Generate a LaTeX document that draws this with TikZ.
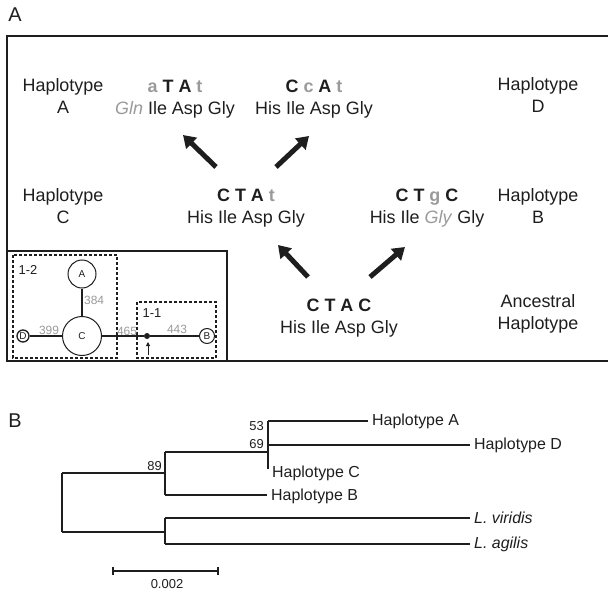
\documentclass[tikz,border=0pt]{standalone}
\usepackage{fontspec}
\setmainfont{Liberation Sans}
\usetikzlibrary{arrows.meta}
\definecolor{ink}{HTML}{1E1E1E}
\definecolor{lgray}{HTML}{9A9A9A}
\newcommand{\grb}[1]{\textcolor{lgray}{\textbf{#1}}}
\newcommand{\gri}[1]{\textcolor{lgray}{\textit{#1}}}
\begin{document}
\begin{tikzpicture}[x=1bp,y=-1bp,
  lab/.style={align=center,font=\fontsize{18}{22}\selectfont,text=ink,inner sep=0},
  panel/.style={font=\fontsize{20}{22}\selectfont,text=ink,inner sep=0},
  bigarrow/.style={line width=5bp,draw=ink,-{Triangle[length=12bp,width=15bp]}},
  frame/.style={line width=1.2bp,draw=ink},
  dbox/.style={line width=1.1bp,draw=ink,dash pattern=on 3bp off 2bp},
  netc/.style={circle,draw=ink,line width=1bp,inner sep=0,font=\fontsize{10}{10}\selectfont,text=ink},
  netl/.style={line width=1.3bp,draw=ink},
  numl/.style={font=\fontsize{12}{12}\selectfont,text=lgray,inner sep=0},
  tl/.style={font=\fontsize{16}{18}\selectfont,anchor=west,inner sep=0,text=ink},
  bs/.style={font=\fontsize{13}{13}\selectfont,anchor=east,inner sep=0,text=ink},
  br/.style={line width=1.2bp,draw=ink}
]
\useasboundingbox (0,0) rectangle (608,591);

% panel labels
\node[panel] (pA) at (15,15) {A};
\node[panel] (pB) at (15,421) {B};

% main frame (right side runs off the picture)
\draw[frame] (608,36) -- (7,36) -- (7,361) -- (608,361);

% haplotype labels
\node[lab] (hA) at (63,96) {Haplotype\\A};
\node[lab] (hD) at (538,95) {Haplotype\\D};
\node[lab] (hC) at (63,206) {Haplotype\\C};
\node[lab] (hB) at (538,206) {Haplotype\\B};
\node[lab] (anc) at (538,314) {Ancestral\\Haplotype};

% codon groups
\node[lab] (g1) at (175,99) {\grb{a} \textbf{T A} \grb{t}\\\gri{Gln} Ile Asp Gly};
\node[lab] (g2) at (314,99) {\textbf{C} \grb{c} \textbf{A} \grb{t}\\His Ile Asp Gly};
\node[lab] (g3) at (246,208) {\textbf{C T A} \grb{t}\\His Ile Asp Gly};
\node[lab] (g4) at (427,208) {\textbf{C T} \grb{g} \textbf{C}\\His Ile \gri{Gly} Gly};
\node[lab] (g5) at (339,318) {\textbf{C T A C}\\His Ile Asp Gly};

% arrows
\coordinate (a1s) at (216,167); \coordinate (a1e) at (183,135);
\coordinate (a2s) at (276,167); \coordinate (a2e) at (309,136);
\coordinate (a3s) at (308,277); \coordinate (a3e) at (278,245);
\coordinate (a4s) at (370,277); \coordinate (a4e) at (405,247);
\draw[bigarrow] (a1s) -- (a1e);
\draw[bigarrow] (a2s) -- (a2e);
\draw[bigarrow] (a3s) -- (a3e);
\draw[bigarrow] (a4s) -- (a4e);

% inset
\draw[frame] (7,251) -- (227,251) -- (227,361);
\draw[dbox] (13,255) rectangle (117,358);
\draw[dbox] (137,302) rectangle (216,358);
\node[font=\fontsize{13}{13}\selectfont,text=ink,inner sep=0] (l12) at (28,270) {1-2};
\node[font=\fontsize{13}{13}\selectfont,text=ink,inner sep=0] (l11) at (152,313) {1-1};
\node[netc,minimum size=28bp] (cA) at (82,274) {A};
\node[netc,minimum size=39bp] (cC) at (82,336) {C};
\node[netc,minimum size=12bp,line width=1.3bp] (cD) at (23,336) {D};
\node[netc,minimum size=15bp] (cB) at (207,336) {B};
\node[circle,fill=ink,minimum size=6bp,inner sep=0] (dot) at (147,336) {};
\draw[netl] (cA) -- (cC);
\draw[netl] (cD) -- (cC);
\draw[netl] (cC) -- (dot);
\draw[netl] (dot) -- (cB);
\node[numl,anchor=west] (n384) at (84,300) {384};
\node[numl] (n399) at (49,330) {399};
\node[numl] (n465) at (127,331) {465};
\node[numl] (n443) at (177,329) {443};
\coordinate (sa1) at (148,355); \coordinate (sa2) at (148,342);
\draw[line width=0.9bp,draw=ink,-{Triangle[length=4bp,width=4bp]}] (sa1) -- (sa2);

% tree
\coordinate (r1) at (62,473); \coordinate (r2) at (62,532);
\coordinate (n89t) at (165,452); \coordinate (n89m) at (165,473); \coordinate (n89b) at (165,495);
\coordinate (n69t) at (268,421); \coordinate (n69m) at (268,445); \coordinate (n69c) at (268,469); \coordinate (n69j) at (268,452);
\coordinate (not) at (165,518); \coordinate (nom) at (165,532); \coordinate (nob) at (165,544);
\coordinate (eA) at (368,421); \coordinate (eD) at (470,445); \coordinate (eB) at (267,495);
\coordinate (eV) at (470,518); \coordinate (eG) at (470,544);
\draw[br] (r1) -- (r2);
\draw[br] (r1) -- (n89m);
\draw[br] (r2) -- (nom);
\draw[br] (n89t) -- (n89b);
\draw[br] (n89t) -- (n69j);
\draw[br] (n89b) -- (eB);
\draw[br] (n69t) -- (n69c);
\draw[br] (n69t) -- (eA);
\draw[br] (n69m) -- (eD);
\draw[br] (not) -- (nob);
\draw[br] (not) -- (eV);
\draw[br] (nob) -- (eG);
\node[tl] (tA) at (372,421) {Haplotype A};
\node[tl] (tD) at (474,445) {Haplotype D};
\node[tl] (tC) at (272,473) {Haplotype C};
\node[tl] (tB) at (271,496) {Haplotype B};
\node[tl] (tV) at (474,518) {\textit{L. viridis}};
\node[tl] (tG) at (474,544) {\textit{L. agilis}};
\node[bs] (b53) at (264,426) {53};
\node[bs] (b69) at (264,444) {69};
\node[bs] (b89) at (162,466) {89};

% scale bar
\coordinate (s1) at (113,571); \coordinate (s2) at (218,571);
\draw[br] (s1) -- (s2);
\draw[br] ([yshift=4bp]s1) -- ([yshift=-4bp]s1);
\draw[br] ([yshift=4bp]s2) -- ([yshift=-4bp]s2);
\node[font=\fontsize{13}{13}\selectfont,text=ink,inner sep=0] (sl) at (167,584) {0.002};
\end{tikzpicture}
\end{document}
